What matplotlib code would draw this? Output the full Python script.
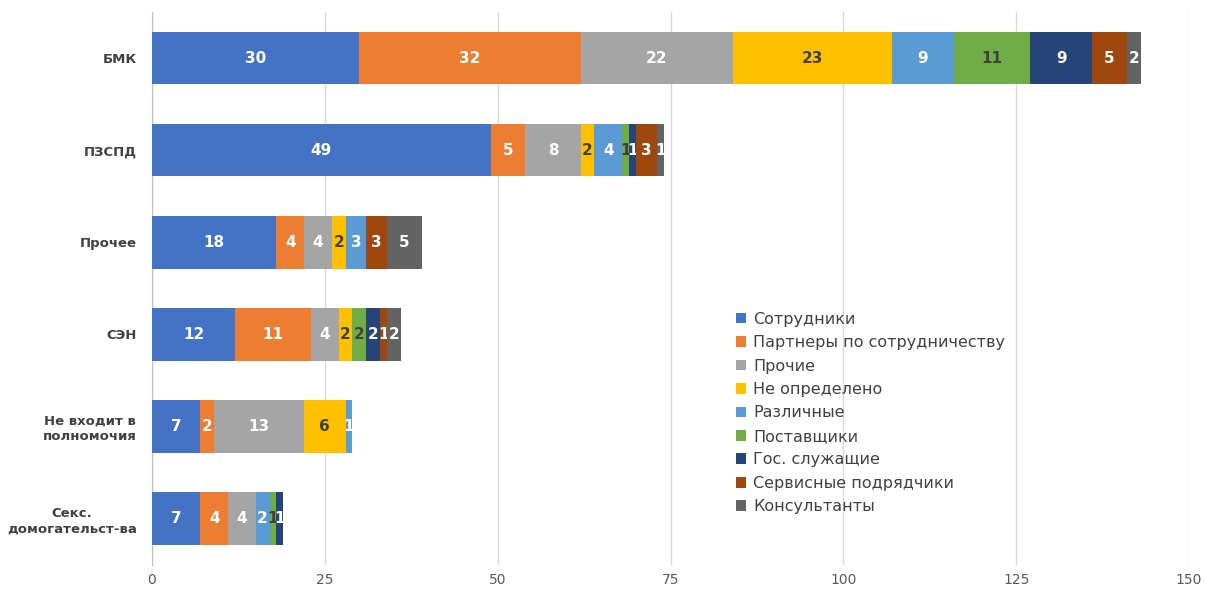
import matplotlib.pyplot as plt
import numpy as np

categories = ["БМК", "ПЗСПД", "Прочее", "СЭН", "Не входит в\nполномочия",
              "Секс.\nдомогательст-ва"]
series = ["Сотрудники", "Партнеры по сотрудничеству", "Прочие", "Не определено",
          "Различные", "Поставщики", "Гос. служащие", "Сервисные подрядчики",
          "Консультанты"]
# values per series, in category order
values = {
    "Сотрудники": [30, 49, 18, 12, 7, 7],
    "Партнеры по сотрудничеству": [32, 5, 4, 11, 2, 4],
    "Прочие": [22, 8, 4, 4, 13, 4],
    "Не определено": [23, 2, 2, 2, 6, 0],
    "Различные": [9, 4, 3, 0, 1, 2],
    "Поставщики": [11, 1, 0, 2, 0, 1],
    "Гос. служащие": [9, 1, 0, 2, 0, 1],
    "Сервисные подрядчики": [5, 3, 3, 1, 0, 0],
    "Консультанты": [2, 1, 5, 2, 0, 0],
}
colors = ["#4472C4", "#ED7D31", "#A5A5A5", "#FFC000", "#5B9BD5",
          "#70AD47", "#264478", "#9E480E", "#636363"]
dark_text = {"Не определено", "Поставщики"}
xticks = [0, 25, 50, 75, 100, 125, 150]

fig = plt.figure(figsize=(12.06, 5.97), dpi=100)
ax = fig.add_axes([0.126, 0.054, 0.86, 0.926])

y = np.arange(len(categories))
left = np.zeros(len(categories))
for name, col in zip(series, colors):
    vals = np.array(values[name], dtype=float)
    bars = ax.barh(y, vals, left=left, height=0.57, color=col, label=name,
                   zorder=3)
    labels = [str(int(v)) if v > 0 else "" for v in vals]
    txts = ax.bar_label(bars, labels=labels, label_type="center",
                        fontsize=11, fontweight="bold")
    for t in txts:
        t.set_color("#404040" if name in dark_text else "white")
    left += vals

ax.set_ylim(len(categories) - 0.5, -0.5)
ax.set_xlim(0, 150)
ax.set_xticks(xticks)
ax.set_yticks(y)
ax.set_yticklabels(categories, fontweight="bold", fontsize=9.5,
                   color="#404040", ha="right", multialignment="center")
ax.tick_params(axis="y", length=0, pad=11)
ax.tick_params(axis="x", length=0, labelsize=10, labelcolor="#595959", pad=6)
ax.grid(axis="x", color="#D9D9D9", lw=1, zorder=0)
for s in ["top", "right", "bottom"]:
    ax.spines[s].set_visible(False)
ax.spines["left"].set_color("#BFBFBF")

ax.legend(loc="upper left", bbox_to_anchor=(0.61, 0.478),
          bbox_transform=fig.transFigure, frameon=False, fontsize=11.5,
          handlelength=0.65, handleheight=0.65, handletextpad=0.45,
          labelspacing=0.53, borderaxespad=0, borderpad=0,
          labelcolor="#404040")

plt.savefig("out.png", dpi=100)
